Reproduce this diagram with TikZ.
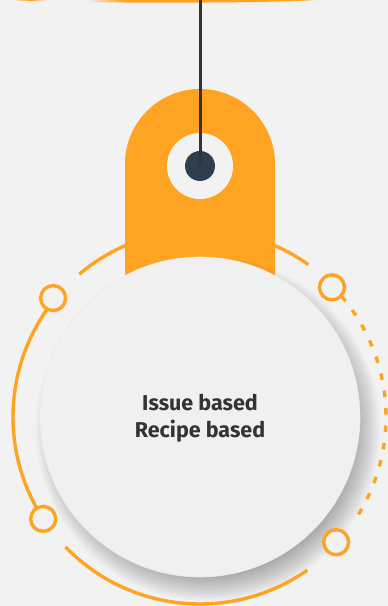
\documentclass[tikz,border=0pt]{standalone}
\usepackage{fontspec}
\setsansfont{Fira Sans}
\usepackage{xcolor}
\usetikzlibrary{calc, positioning}
\definecolor{TagOrange}{HTML}{FEA322}
\definecolor{PinNavy}{HTML}{2F3E4D}
\definecolor{PaperGray}{HTML}{F2F2F2}
\definecolor{DiscGray}{HTML}{F0F0F0}
\definecolor{TextDark}{HTML}{333333}
\pgfdeclarehorizontalshading{topbar}{100bp}{color(0bp)=(TagOrange); color(28bp)=(TagOrange); color(30.5bp)=(PaperGray); color(37bp)=(PaperGray); color(43bp)=(TagOrange); color(71.5bp)=(TagOrange); color(75bp)=(PaperGray); color(100bp)=(PaperGray)}

\begin{document}
\begin{tikzpicture}[
    x=1pt, y=1pt,
    ring/.style={
        draw=TagOrange,
        line width=3.4pt
    },
    knob/.style={
        circle,
        draw=TagOrange,
        line width=3.4pt,
        fill=PaperGray,
        minimum size=25pt,
        inner sep=0pt
    },
    disc/.style={
        circle,
        fill=DiscGray,
        draw=black!8,
        line width=0.6pt,
        minimum size=320pt,
        inner sep=0pt
    },
    caption/.style={
        font=\sffamily\bfseries\fontsize{21.5}{27}\selectfont,
        text=TextDark,
        align=center
    }
]

% Canvas
\fill[PaperGray] (0,0) rectangle (388,606);
\useasboundingbox (0,0) rectangle (388,606);
\coordinate (C) at (200,189);

% Top bar
\shade[shading=topbar] (13,606) .. controls (60,602.5) and (270,602.5) .. (320,606) -- cycle;

% Tag
\fill[TagOrange] (125,300) -- (125,442) arc[start angle=180, end angle=0, radius=75] -- (275,300) -- cycle;
\node[circle, fill=PaperGray, minimum size=66pt, inner sep=0pt] (hole) at (200,440) {};

% Shadow of the disc
\foreach \r in {148,150,...,172}
    \fill[black, opacity=0.025] ($(C)+(8,-12)$) circle (\r);

% Ring
\draw[ring] ($(C)+(113.6:187)$) arc[start angle=113.6, end angle=130.2, radius=187];
\draw[ring] ($(C)+(66.4:187)$) arc[start angle=66.4, end angle=54.6, radius=187];
\draw[ring] ($(C)+(145:187)$) arc[start angle=145, end angle=209, radius=187];
\draw[ring] ($(C)+(224:187)$) arc[start angle=224, end angle=305, radius=187];
\draw[ring, dash pattern=on 6.5pt off 11pt] ($(C)+(40.5:186)$) arc[start angle=40.5, end angle=-31.6, radius=186];

% Knobs
\node[knob] (knobUL) at ($(C)+(141:189)$) {};
\node[knob] (knobLL) at ($(C)+(213:187)$) {};
\node[knob] (knobUR) at ($(C)+(44.5:185)$) {};
\node[knob] (knobLR) at ($(C)+(-42.6:185)$) {};

% Disc
\node[disc] (disc) at (C) {};
\node[caption] (label) at ($(C)+(0,-1)$) {Issue based\\Recipe based};

% String and pin
\node[circle, fill=PinNavy, minimum size=30pt, inner sep=0pt] (pin) at (hole.center) {};
\coordinate (top) at (200,606);
\draw[TextDark, line width=3pt] (top) -- (pin.center);

\end{tikzpicture}
\end{document}
